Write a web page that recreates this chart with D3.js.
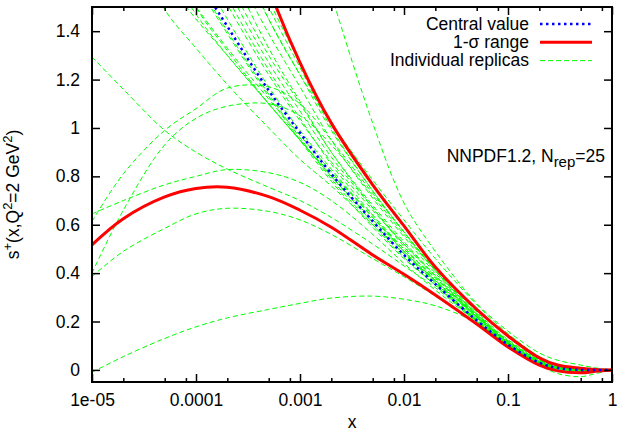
<!DOCTYPE html>
<html>
<head>
<meta charset="utf-8">
<script src="https://cdn.jsdelivr.net/npm/d3@7"></script>
<style>
  body { margin: 0; background: #fff; }
  text { font-family: "Liberation Sans", Arial, sans-serif; font-size: 17.5px; fill: #000; }
</style>
</head>
<body>
<div id="chart"></div>
<script>
// grade em x (log) onde as curvas foram lidas
const xGrid = [1e-5, 2e-5, 5e-5, 1e-4, 2e-4, 5e-4, 1e-3, 2e-3, 5e-3, 0.01, 0.02, 0.05, 0.1, 0.2, 0.3, 0.5, 0.7, 1];

const central = [2.6, 2.3, 1.9, 1.63, 1.42, 1.155, 0.98, 0.81, 0.615, 0.475, 0.355, 0.205, 0.105, 0.03, 0.008, 0.0, 0.0, 0.0];
const sigmaUp = [4.0, 3.6, 3.0, 2.6, 2.1, 1.58, 1.27, 1.02, 0.765, 0.595, 0.425, 0.25, 0.14, 0.05, 0.02, 0.007, 0.002, 0];
const sigmaDn = [0.517, 0.625, 0.715, 0.75, 0.755, 0.716, 0.66, 0.59, 0.475, 0.395, 0.31, 0.19, 0.095, 0.02, -0.004, -0.012, -0.006, 0];

// 25 réplicas
const replicas = [
  [2.1, 1.85, 1.49, 1.33, 1.18, 1.0, 0.87, 0.76, 0.6, 0.48, 0.37, 0.22, 0.12, 0.04, 0.015, 0.002, 0, 0],
  [2.4, 2.1, 1.68, 1.47, 1.3, 1.1, 0.95, 0.8, 0.62, 0.49, 0.37, 0.215, 0.115, 0.035, 0.01, 0, 0, 0],
  [2.5, 2.2, 1.8, 1.5, 1.32, 1.1, 0.95, 0.81, 0.64, 0.5, 0.38, 0.22, 0.11, 0.03, 0.008, -0.002, 0, 0],
  [2.8, 2.5, 2.05, 1.75, 1.51, 1.22, 1.03, 0.86, 0.66, 0.52, 0.39, 0.22, 0.11, 0.03, 0.01, 0, 0, 0],
  [3.0, 2.6, 2.15, 1.85, 1.58, 1.27, 1.07, 0.88, 0.67, 0.52, 0.385, 0.215, 0.105, 0.025, 0.005, -0.003, 0, 0],
  [3.2, 2.8, 2.3, 2.0, 1.72, 1.39, 1.17, 0.95, 0.71, 0.55, 0.4, 0.225, 0.11, 0.03, 0.008, 0, 0, 0],
  [3.4, 3.0, 2.45, 2.1, 1.8, 1.45, 1.22, 0.99, 0.74, 0.57, 0.41, 0.23, 0.115, 0.035, 0.012, 0.002, 0, 0],
  [3.5, 3.1, 2.55, 2.2, 1.88, 1.5, 1.25, 1.0, 0.74, 0.57, 0.41, 0.23, 0.12, 0.04, 0.015, 0.003, 0, 0],
  [2.6, 2.3, 1.9, 1.62, 1.4, 1.14, 0.96, 0.79, 0.6, 0.465, 0.35, 0.2, 0.1, 0.028, 0.006, -0.004, -0.002, 0],
  [2.7, 2.35, 1.95, 1.68, 1.45, 1.17, 0.99, 0.83, 0.63, 0.49, 0.365, 0.205, 0.1, 0.025, 0.004, -0.005, -0.003, 0],
  [2.9, 2.55, 2.1, 1.8, 1.54, 1.24, 1.04, 0.85, 0.64, 0.49, 0.36, 0.2, 0.095, 0.02, -0.015, -0.028, -0.015, 0],
  [3.0, 2.65, 2.2, 1.9, 1.62, 1.3, 1.1, 0.9, 0.68, 0.53, 0.39, 0.22, 0.11, 0.03, 0.006, -0.004, -0.002, 0],
  [2.2, 1.95, 1.68, 1.5, 1.33, 1.12, 0.97, 0.82, 0.63, 0.5, 0.38, 0.225, 0.115, 0.035, 0.01, 0, 0, 0],
  [3.3, 2.9, 2.35, 2.0, 1.68, 1.33, 1.11, 0.9, 0.67, 0.51, 0.37, 0.205, 0.1, 0.025, 0.003, -0.006, -0.003, 0],
  [2.5, 2.2, 1.85, 1.6, 1.39, 1.13, 0.95, 0.78, 0.59, 0.46, 0.35, 0.205, 0.105, 0.03, 0.008, -0.002, 0, 0],
  [3.6, 3.2, 2.6, 2.25, 1.92, 1.53, 1.27, 1.02, 0.76, 0.59, 0.43, 0.24, 0.125, 0.045, 0.018, 0.005, 0.001, 0],
  [2.0, 1.85, 1.62, 1.45, 1.3, 1.1, 0.95, 0.8, 0.61, 0.48, 0.36, 0.21, 0.105, 0.03, 0.007, -0.003, -0.001, 0],
  [-0.01, 0.055, 0.13, 0.178, 0.215, 0.25, 0.275, 0.297, 0.305, 0.292, 0.265, 0.195, 0.105, 0.03, 0.008, -0.004, -0.002, 0],
  [0.386, 0.49, 0.585, 0.645, 0.668, 0.655, 0.62, 0.56, 0.46, 0.385, 0.305, 0.19, 0.1, 0.025, 0.005, -0.006, -0.003, 0],
  [0.645, 0.7, 0.765, 0.8, 0.828, 0.815, 0.775, 0.7, 0.56, 0.44, 0.33, 0.2, 0.1, 0.028, 0.006, -0.004, -0.002, 0],
  [0.614, 0.81, 0.99, 1.08, 1.165, 1.17, 1.1, 0.95, 0.73, 0.57, 0.415, 0.235, 0.12, 0.04, 0.012, 0.002, 0, 0],
  [0.40, 0.66, 0.93, 1.04, 1.09, 1.1, 1.05, 0.93, 0.72, 0.56, 0.41, 0.23, 0.115, 0.035, 0.01, 0, 0, 0],
  [1.294, 1.16, 0.99, 0.9, 0.83, 0.755, 0.7, 0.63, 0.52, 0.43, 0.34, 0.2, 0.1, 0.03, 0.008, -0.003, -0.002, 0],
  [4.2, 3.8, 3.4, 3.0, 2.7, 2.4, 1.98, 1.55, 1.02, 0.69, 0.49, 0.275, 0.16, 0.07, 0.04, 0.02, 0.008, 0],
  [3.5, 3.1, 2.6, 2.2, 1.85, 1.45, 1.22, 1.02, 0.785, 0.62, 0.46, 0.27, 0.15, 0.055, 0.022, 0.005, 0.002, 0]
];

const xTicks = [1e-5, 1e-4, 1e-3, 1e-2, 1e-1, 1];
const xTickLabels = ["1e-05", "0.0001", "0.001", "0.01", "0.1", "1"];
const xMinorMant = [2, 5, 8];
const yTicks = [0, 0.2, 0.4, 0.6, 0.8, 1, 1.2, 1.4];
const yTickLabels = ["0", "0.2", "0.4", "0.6", "0.8", "1", "1.2", "1.4"];

const legendLabels = ["Central value", "1-σ range", "Individual replicas"];

const W = 618, H = 433;
const mLeft = 92, mRight = 612, mTop = 7, mBottom = 382;

const svg = d3.select("#chart").append("svg")
    .attr("width", W).attr("height", H);

const x = d3.scaleLog().domain([1e-5, 1]).range([mLeft, mRight]);
const y = d3.scaleLinear().domain([-0.05, 1.5]).range([mBottom, mTop]);

svg.append("clipPath").attr("id", "clip")
  .append("rect")
    .attr("x", mLeft).attr("y", mTop)
    .attr("width", mRight - mLeft).attr("height", mBottom - mTop);

const line = d3.line()
    .x((d, i) => x(xGrid[i]))
    .y(d => y(d))
    .curve(d3.curveCatmullRom.alpha(0.5));

const plot = svg.append("g").attr("clip-path", "url(#clip)");

// réplicas
plot.selectAll("path.rep")
  .data(replicas)
  .enter().append("path")
    .attr("class", "rep")
    .attr("d", line)
    .attr("fill", "none")
    .attr("stroke", "#00ff00")
    .attr("stroke-width", 1)
    .attr("stroke-dasharray", "5,3");

// faixa 1-sigma
plot.selectAll("path.sig")
  .data([sigmaUp, sigmaDn])
  .enter().append("path")
    .attr("class", "sig")
    .attr("d", line)
    .attr("fill", "none")
    .attr("stroke", "#ff0000")
    .attr("stroke-width", 3);

// valor central
plot.append("path")
    .attr("d", line(central))
    .attr("fill", "none")
    .attr("stroke", "#0000ff")
    .attr("stroke-width", 2.5)
    .attr("stroke-dasharray", "2.5,3.5");

// eixos
const minorTicks = [];
for (let e = -5; e < 0; e++) xMinorMant.forEach(m => minorTicks.push(m * Math.pow(10, e)));

function styleAxis(g) {
  g.select(".domain").remove();
  g.selectAll("line").attr("stroke", "#000").attr("stroke-width", 1.5);
}

svg.append("g")
    .attr("transform", `translate(0,${mBottom})`)
    .call(d3.axisBottom(x).tickValues(xTicks).tickSize(-8).tickSizeOuter(0)
      .tickPadding(11.5).tickFormat((d, i) => xTickLabels[i]))
    .call(styleAxis);

svg.append("g")
    .attr("transform", `translate(0,${mBottom})`)
    .call(d3.axisBottom(x).tickValues(minorTicks).tickSize(-4).tickSizeOuter(0).tickFormat(""))
    .call(styleAxis);

svg.append("g")
    .attr("transform", `translate(0,${mTop})`)
    .call(d3.axisTop(x).tickValues(xTicks).tickSize(-8).tickSizeOuter(0).tickFormat(""))
    .call(styleAxis);

svg.append("g")
    .attr("transform", `translate(0,${mTop})`)
    .call(d3.axisTop(x).tickValues(minorTicks).tickSize(-4).tickSizeOuter(0).tickFormat(""))
    .call(styleAxis);

svg.append("g")
    .attr("transform", `translate(${mLeft},0)`)
    .call(d3.axisLeft(y).tickValues(yTicks).tickSize(-8).tickSizeOuter(0)
      .tickPadding(12).tickFormat((d, i) => yTickLabels[i]))
    .call(styleAxis);

svg.append("g")
    .attr("transform", `translate(${mRight},0)`)
    .call(d3.axisRight(y).tickValues(yTicks).tickSize(-8).tickSizeOuter(0).tickFormat(""))
    .call(styleAxis);

// usar a fonte do CSS nos eixos
svg.selectAll("g").attr("font-size", null).attr("font-family", null);

// moldura
svg.append("rect")
    .attr("x", mLeft).attr("y", mTop)
    .attr("width", mRight - mLeft).attr("height", mBottom - mTop)
    .attr("fill", "none")
    .attr("stroke", "#000")
    .attr("stroke-width", 2);

// rótulos dos eixos
svg.append("text")
    .attr("x", (mLeft + mRight) / 2)
    .attr("y", 428)
    .attr("text-anchor", "middle")
    .text("x");

const yl = svg.append("text")
    .attr("transform", `translate(18.5,${(mTop + mBottom) / 2}) rotate(-90)`)
    .attr("text-anchor", "middle");
yl.append("tspan").text("s");
yl.append("tspan").attr("dy", -7).style("font-size", "13px").text("+");
yl.append("tspan").attr("dy", 7).text("(x,Q");
yl.append("tspan").attr("dy", -7).style("font-size", "13px").text("2");
yl.append("tspan").attr("dy", 7).text("=2 GeV");
yl.append("tspan").attr("dy", -7).style("font-size", "13px").text("2");
yl.append("tspan").attr("dy", 7).text(")");

// anotação
const ann = svg.append("text")
    .attr("x", 605).attr("y", 162)
    .attr("text-anchor", "end");
ann.append("tspan").text("NNPDF1.2, N");
ann.append("tspan").attr("dy", 5).style("font-size", "15px").text("rep");
ann.append("tspan").attr("dy", -5).text("=25");

// legenda
const legStyles = [
  { stroke: "#0000ff", width: 2.5, dash: "2.5,3.5" },
  { stroke: "#ff0000", width: 3, dash: null },
  { stroke: "#00ff00", width: 1, dash: "5,3" }
];
const leg = svg.append("g");
legendLabels.forEach((lab, i) => {
  const cy = 24 + i * 18.3;
  leg.append("text")
      .attr("x", 529).attr("y", cy + 5.5)
      .attr("text-anchor", "end")
      .text(lab);
  leg.append("line")
      .attr("x1", 540).attr("x2", 592)
      .attr("y1", cy).attr("y2", cy)
      .attr("stroke", legStyles[i].stroke)
      .attr("stroke-width", legStyles[i].width)
      .attr("stroke-dasharray", legStyles[i].dash);
});
</script>
</body>
</html>
